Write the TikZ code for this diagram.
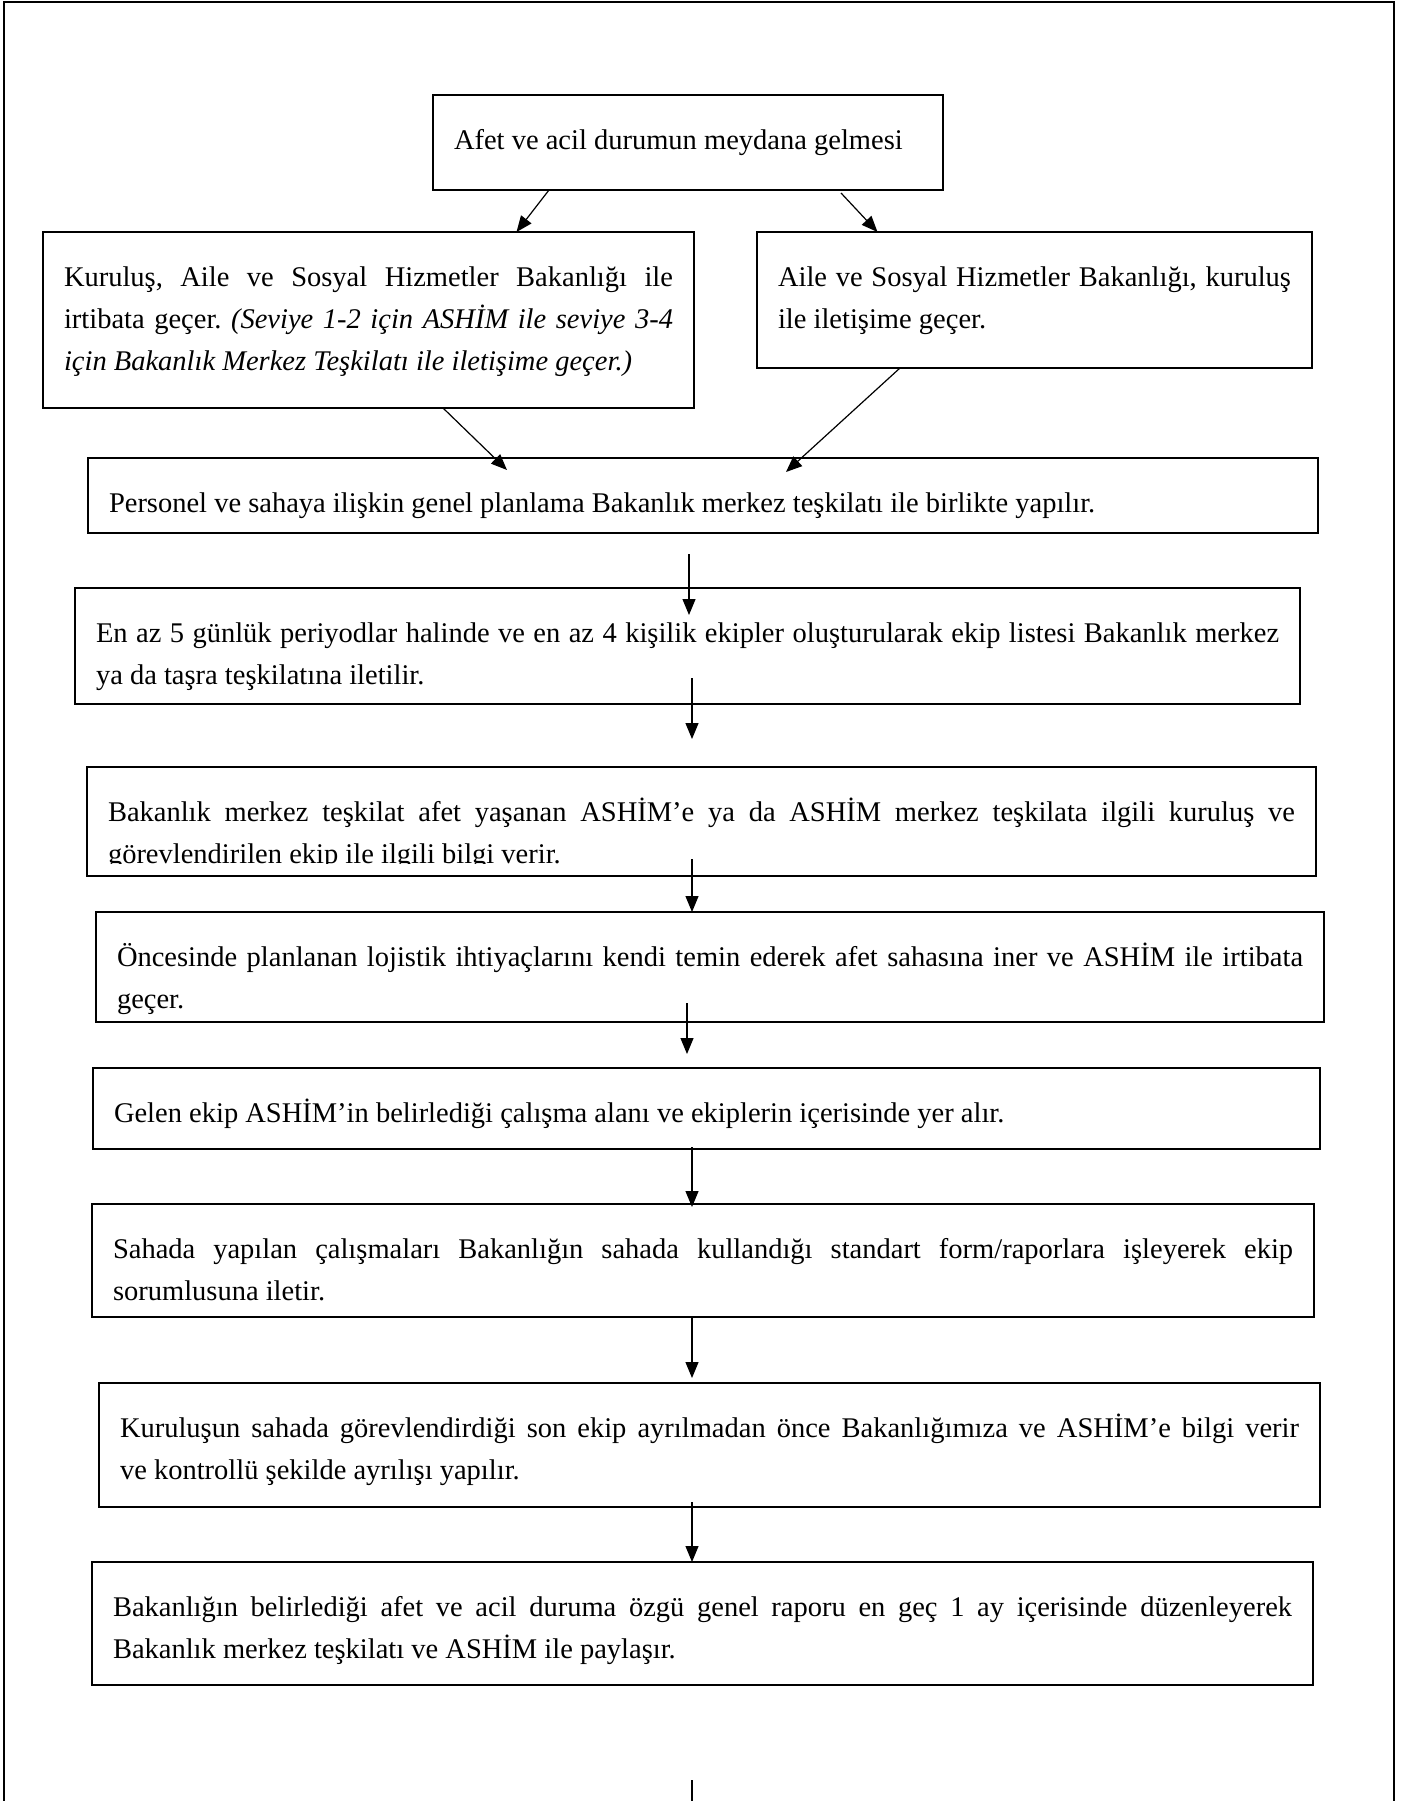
\documentclass[tikz,border=0pt]{standalone}
\usepackage{fontspec}
\setmainfont{Liberation Serif}
\usepackage{xcolor}
\usepackage{tikz}
\usetikzlibrary{arrows.meta, positioning}
\hyphenpenalty=10000
\exhyphenpenalty=10000
\frenchspacing
\tikzstyle{stepbox} = [
    rectangle,
    draw=black,
    line width=2.4pt,
    inner xsep=21pt,
    inner ysep=0pt,
    outer sep=0pt,
    text height=54pt,
    align=justify,
    font=\fontsize{28.5}{42}\selectfont
]
\tikzstyle{arrow} = [
    line width=1.2pt,
    -{Triangle[length=16pt, width=13pt]}
]
\tikzstyle{frame} = [line width=2.5pt]

\begin{document}
\begin{tikzpicture}[x=1pt, y=1pt]
    \useasboundingbox (0,0) rectangle (1400,-1801);
    \draw[frame] (4,-1801) -- (4,-2) -- (1394,-2) -- (1394,-1801);

    \node[stepbox, anchor=north, text width=468pt, text depth=41pt] (afet) at (688,-95) {Afet ve acil durumun meydana gelmesi};
    \node[stepbox, below=42pt of afet, xshift=-319.5pt, text width=609pt, text depth=122pt] (kur) {Kuruluş, Aile ve Sosyal Hizmetler Bakanlığı ile\linebreak irtibata geçer. \textit{(Seviye 1-2 için ASHİM ile seviye 3-4\linebreak için Bakanlık Merkez Teşkilatı ile iletişime geçer.)}};
    \node[stepbox, below=42pt of afet, xshift=346.5pt, text width=513pt, text depth=82pt] (aile) {Aile ve Sosyal Hizmetler Bakanlığı, kuruluş\linebreak ile iletişime geçer.};
    \node[stepbox, below=50pt of kur, xshift=334.5pt, text width=1188pt, text depth=21pt] (plan) {Personel ve sahaya ilişkin genel planlama Bakanlık merkez teşkilatı ile birlikte yapılır.};
    \node[stepbox, below=55pt of plan, xshift=-15.5pt, text width=1183pt, text depth=62pt] (ekip) {En az 5 günlük periyodlar halinde ve en az 4 kişilik ekipler oluşturularak ekip listesi Bakanlık merkez\linebreak ya da taşra teşkilatına iletilir.};
    \node[stepbox, below=63pt of ekip, xshift=14pt, text width=1187pt, text depth=55pt] (bilgi) {Bakanlık merkez teşkilat afet yaşanan ASHİM’e ya da ASHİM merkez teşkilata ilgili kuruluş ve\linebreak görevlendirilen ekip ile ilgili bilgi verir.};
    \node[stepbox, below=36pt of bilgi, xshift=8.5pt, text width=1186pt, text depth=56pt] (lojistik) {Öncesinde planlanan lojistik ihtiyaçlarını kendi temin ederek afet sahasına iner ve ASHİM ile irtibata\linebreak geçer.};
    \node[stepbox, below=46pt of lojistik, xshift=-3.5pt, text width=1185pt, text depth=27pt] (alan) {Gelen ekip ASHİM’in belirlediği çalışma alanı ve ekiplerin içerisinde yer alır.};
    \node[stepbox, below=55pt of alan, xshift=-3.5pt, text width=1180pt, text depth=59pt] (rapor) {Sahada yapılan çalışmaları Bakanlığın sahada kullandığı standart form/raporlara işleyerek ekip\linebreak sorumlusuna iletir.};
    \node[stepbox, below=66pt of rapor, xshift=6.5pt, text width=1179pt, text depth=70pt] (ayril) {Kuruluşun sahada görevlendirdiği son ekip ayrılmadan önce Bakanlığımıza ve ASHİM’e bilgi verir\linebreak ve kontrollü şekilde ayrılışı yapılır.};
    \node[stepbox, below=55pt of ayril, xshift=-7pt, text width=1179pt, text depth=69pt] (genel) {Bakanlığın belirlediği afet ve acil duruma özgü genel raporu en geç 1 ay içerisinde düzenleyerek\linebreak Bakanlık merkez teşkilatı ve ASHİM ile paylaşır.};
    \coordinate[below=116pt of genel, xshift=-10.5pt] (cut);
    \fill[white] ([xshift=3pt,yshift=3pt]bilgi.south west) rectangle ([xshift=-3pt,yshift=12pt]bilgi.south east);

    \draw[arrow] ([xshift=-139pt]afet.south) -- ([xshift=148pt]kur.north);
    \draw[arrow] ([xshift=153pt,yshift=-3pt]afet.south) -- ([xshift=-157pt]aile.north);
    \draw[arrow] ([xshift=74.5pt]kur.south) -- ([xshift=-196pt,yshift=-12pt]plan.north);
    \draw[arrow] ([xshift=-134.5pt]aile.south) -- ([xshift=83pt,yshift=-14pt]plan.north);
    \draw[arrow] ([xshift=-14pt,yshift=-21pt]plan.south) -- ([xshift=1.5pt,yshift=-27pt]ekip.north);
    \draw[arrow] ([xshift=4.5pt,yshift=26pt]ekip.south) -- ([xshift=-9.5pt,yshift=28pt]bilgi.north);
    \draw[arrow] ([xshift=-9.5pt,yshift=17pt]bilgi.south) -- ([xshift=-18pt]lojistik.north);
    \draw[arrow] ([xshift=-23pt,yshift=19pt]lojistik.south) -- ([xshift=-19.5pt,yshift=14pt]alan.north);
    \draw[arrow] ([xshift=-14.5pt,yshift=2pt]alan.south) -- ([xshift=-11pt,yshift=-3pt]rapor.north);
    \draw[arrow] ([xshift=-11pt,yshift=-1pt]rapor.south) -- ([xshift=-17.5pt,yshift=5pt]ayril.north);
    \draw[arrow] ([xshift=-17.5pt,yshift=5pt]ayril.south) -- ([xshift=-10.5pt]genel.north);
    \draw[line width=1.2pt] ([xshift=-10.5pt,yshift=-95pt]genel.south) -- (cut);
\end{tikzpicture}
\end{document}
